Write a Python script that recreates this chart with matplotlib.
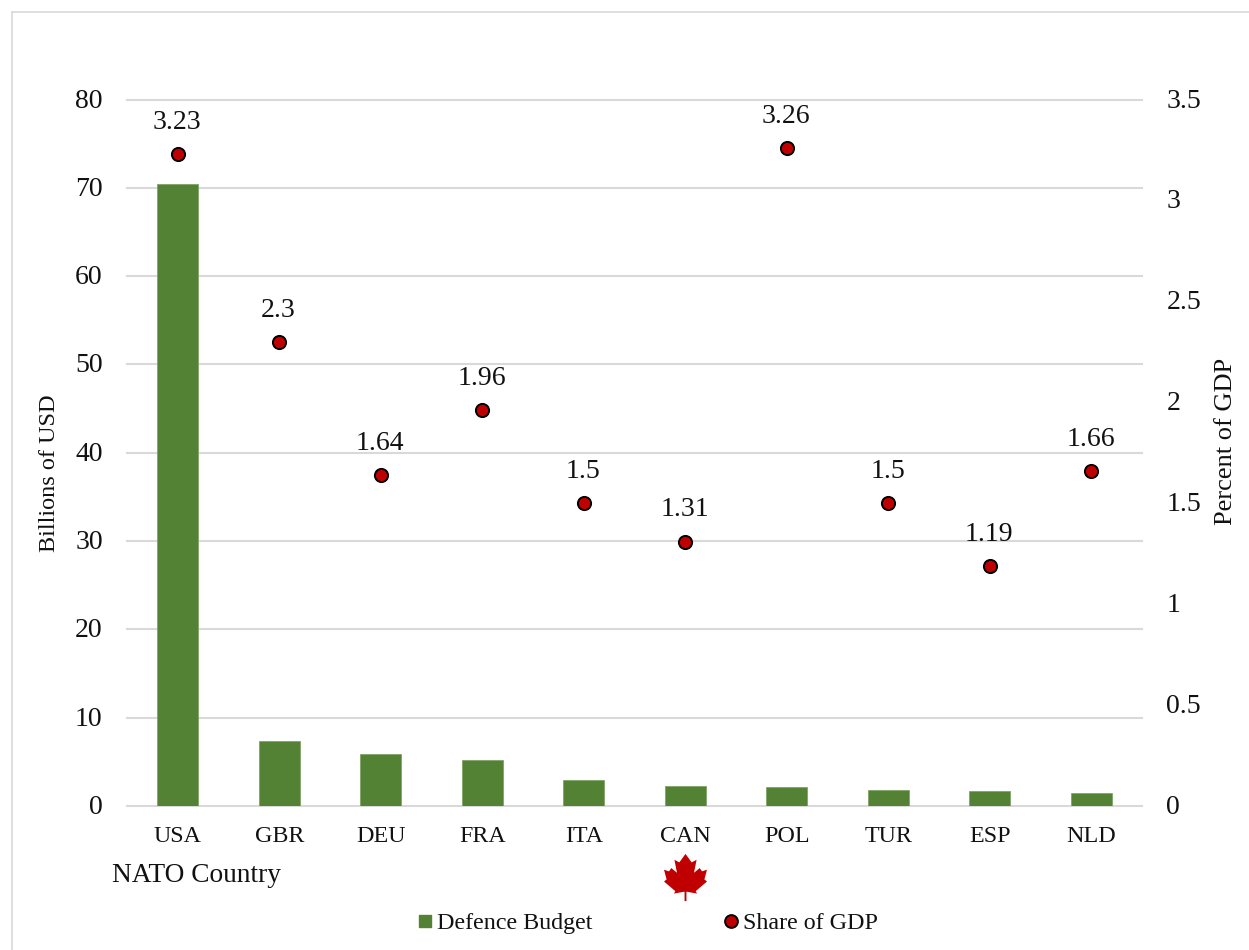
import matplotlib
matplotlib.use("Agg")
import matplotlib.pyplot as plt
from matplotlib.lines import Line2D
from matplotlib.path import Path
from matplotlib.transforms import blended_transform_factory, ScaledTranslation

plt.rcParams['font.family'] = ['Liberation Serif', 'DejaVu Serif']

countries = ["USA", "GBR", "DEU", "FRA", "ITA", "CAN", "POL", "TUR", "ESP", "NLD"]
budget = [70.4, 7.4, 5.9, 5.2, 2.95, 2.3, 2.1, 1.85, 1.65, 1.5]
gdp_share = [3.23, 2.3, 1.64, 1.96, 1.5, 1.31, 3.26, 1.5, 1.19, 1.66]
budget_ticks = [0, 10, 20, 30, 40, 50, 60, 70, 80]
share_ticks = [0, 0.5, 1, 1.5, 2, 2.5, 3, 3.5]
share_tick_labels = ["0", "0.5", "1", "1.5", "2", "2.5", "3", "3.5"]

GREEN = "#548235"
RED = "#C00000"
GRID = "#D9D9D9"

W, H = 1249, 950
fig = plt.figure(figsize=(W / 100, H / 100), dpi=100)

# Chart frame: only the top and left edges are visible
fig.add_artist(Line2D([12 / W, 12 / W], [0, 1 - 12 / H], color=GRID, lw=1.2))
fig.add_artist(Line2D([12 / W, 1], [1 - 12 / H, 1 - 12 / H], color=GRID, lw=1.2))

ax_w = 1142 - 127
ax_h = 806 - 99.5
ax = fig.add_axes([127 / W, 1 - 806 / H, ax_w / W, ax_h / H])
x = list(range(len(countries)))
ax.bar(x, budget, width=0.405, color=GREEN, edgecolor="#7FA565", linewidth=0.6, zorder=3)
ax.set_xlim(-0.5, len(countries) - 0.5)
ax.set_ylim(0, 80)
ax.set_yticks(budget_ticks)
ax.set_xticks(x)
ax.set_xticklabels(countries)
ax.tick_params(axis="x", length=0, labelsize=17.3, pad=14.5, labelcolor="#111111")
ax.tick_params(axis="y", length=0, labelsize=20, pad=17.5, labelcolor="#111111")
ax.grid(axis="y", color=GRID, lw=1.5, zorder=0)
for gridline in ax.get_ygridlines():
    gridline.set_clip_on(False)
ax.set_axisbelow(True)
for s in ax.spines.values():
    s.set_visible(False)
ax.set_ylabel("Billions of USD", fontsize=17.5, va="center", color="#111111")
ax.yaxis.set_label_coords((50 - 127) / ax_w, (806 - 473) / ax_h)

ax2 = ax.twinx()
ax2.set_ylim(0, 3.5)
ax2.set_yticks(share_ticks)
ax2.set_yticklabels(share_tick_labels)
ax2.tick_params(axis="y", length=0, labelsize=20, pad=17.5, labelcolor="#111111")
for s in ax2.spines.values():
    s.set_visible(False)
ax2.scatter(x, gdp_share, s=90, color=RED, edgecolor="black", linewidth=1.4, zorder=5)
for xi, v in zip(x, gdp_share):
    ax2.annotate(f"{v:g}", (xi, v), xytext=(-0.5, 13.8), textcoords="offset points",
                 ha="center", va="bottom", fontsize=20, color="#111111")
ax2.set_ylabel("Percent of GDP", fontsize=19, rotation=90, va="center", color="#111111")
ax2.yaxis.set_label_coords((1226 - 127) / ax_w, (806 - 441) / ax_h)

# Value-axis labels sit slightly above their gridlines
nudge = ScaledTranslation(0, 1.5 / 100, fig.dpi_scale_trans)
for axis in (ax, ax2):
    for label in axis.get_yticklabels():
        label.set_transform(label.get_transform() + nudge)

fig.text(112 / W, 1 - 876 / H, "NATO Country", fontsize=19.7, ha="left", va="center", color="#111111")

# Maple leaf outline used as a custom marker below the Canadian label
half = [(0, 1.0), (0.26, 0.64), (0.47, 0.75), (0.36, 0.2), (0.6, 0.4), (0.7, 0.26),
        (0.91, 0.33), (0.8, -0.08), (0.91, -0.17), (0.43, -0.58), (0.49, -0.68),
        (0.04, -0.6), (0.04, -1.0)]
leaf_pts = half + [(-px, py) for px, py in reversed(half)] + [half[0]]
leaf_codes = [Path.MOVETO] + [Path.LINETO] * (len(leaf_pts) - 2) + [Path.CLOSEPOLY]
leaf = Path(leaf_pts, leaf_codes)
trans = blended_transform_factory(ax.transData, fig.transFigure)
ax.plot([countries.index("CAN")], [1 - 876.5 / H], marker=leaf, ms=34, mfc=RED, mec=RED, mew=0,
        transform=trans, clip_on=False, zorder=6, ls="none")

handles = [
    Line2D([], [], marker="s", ls="none", mfc=GREEN, mec=GREEN, ms=8.6),
    Line2D([], [], marker="o", ls="none", mfc=RED, mec="black", mew=1.4, ms=9.2),
]
fig.legend(handles, ["Defence Budget", "Share of GDP"], loc="center", ncol=2,
           bbox_to_anchor=(646.7 / W, 1 - 923.5 / H), frameon=False, fontsize=17.3,
           columnspacing=5.4, handlelength=0.8, handletextpad=0.1, labelcolor="#111111",
           borderpad=0, borderaxespad=0)

fig.savefig("out.png", dpi=100, facecolor="white")
